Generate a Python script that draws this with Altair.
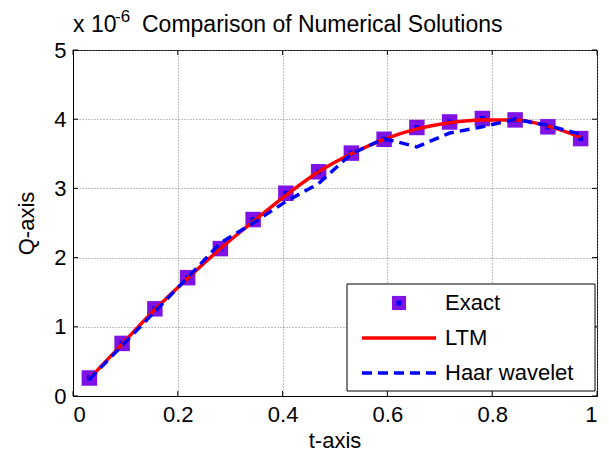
import altair as alt
import pandas as pd

# ---- data (values in units of 1e-6) ----
t_vals = [0.03125, 0.09375, 0.15625, 0.21875, 0.28125, 0.34375, 0.40625, 0.46875,
          0.53125, 0.59375, 0.65625, 0.71875, 0.78125, 0.84375, 0.90625, 0.96875]
exact = [0.26, 0.76, 1.26, 1.71, 2.13, 2.55, 2.93, 3.24, 3.51, 3.71, 3.88, 3.96, 4.01, 3.99, 3.89, 3.72]
ltm = [0.25, 0.75, 1.25, 1.70, 2.13, 2.52, 2.90, 3.24, 3.50, 3.71, 3.86, 3.95, 3.99, 3.99, 3.90, 3.74]
haar = [0.24, 0.73, 1.22, 1.71, 2.21, 2.50, 2.81, 3.07, 3.50, 3.72, 3.60, 3.80, 3.89, 4.00, 3.91, 3.78]
x_ticks = [0, 0.2, 0.4, 0.6, 0.8, 1.0]
y_ticks = [0, 1, 2, 3, 4, 5]
legend_labels = ["Exact", "LTM", "Haar wavelet"]
x_title = "t-axis"
y_title = "Q-axis"

W, H = 524, 346
FONT = "Liberation Sans"
PURPLE = "#7F13E6"

df = pd.DataFrame({"t": t_vals, "exact": exact, "ltm": ltm, "haar": haar})
xt = pd.DataFrame({"v": x_ticks})
yt = pd.DataFrame({"v": y_ticks})

xs = alt.Scale(domain=[0, 1], nice=False, zero=False)
ys = alt.Scale(domain=[0, 5], nice=False, zero=False)

x_enc = alt.X("t:Q", scale=xs, axis=alt.Axis(values=x_ticks, format=".1~f", title=""))
base = alt.Chart(df)

squares = base.mark_point(shape="square", filled=True, size=240, color=PURPLE, opacity=1).encode(
    x=x_enc,
    y=alt.Y("exact:Q", scale=ys, axis=alt.Axis(values=y_ticks, format="d", title=y_title,
                                               titlePadding=15)),
)
centers = base.mark_point(shape="square", filled=True, size=25, color="#0000FF", opacity=1).encode(
    x="t:Q", y="exact:Q")
ltm_line = base.mark_line(color="#FF0000", strokeWidth=3.5, interpolate="monotone").encode(
    x="t:Q", y="ltm:Q")
haar_line = base.mark_line(color="#0000FF", strokeWidth=3.5, strokeDash=[10, 6]).encode(
    x="t:Q", y="haar:Q")

# inward ticks (Matlab style)
xtick_b = alt.Chart(xt).mark_rule(color="black").encode(x=alt.X("v:Q", scale=xs), y=alt.value(H), y2=alt.value(H - 5))
xtick_t = alt.Chart(xt).mark_rule(color="black").encode(x=alt.X("v:Q", scale=xs), y=alt.value(0), y2=alt.value(5))
ytick_l = alt.Chart(yt).mark_rule(color="black").encode(y=alt.Y("v:Q", scale=ys), x=alt.value(0), x2=alt.value(5))
ytick_r = alt.Chart(yt).mark_rule(color="black").encode(y=alt.Y("v:Q", scale=ys), x=alt.value(W), x2=alt.value(W - 5))

one = pd.DataFrame({"a": [0]})
def txt(s, x, y, size, align="left", baseline="alphabetic"):
    return alt.Chart(one).mark_text(text=s, font=FONT, fontSize=size, align=align,
                                    baseline=baseline, color="black").encode(
        x=alt.value(x), y=alt.value(y))

title_parts = [
    txt("x 10", 0, -18, 23),
    txt("-6", 42, -41, 17, baseline="top"),
    txt("Comparison of Numerical Solutions", 69, -18, 23),
    txt(x_title, W / 2, 398, 22, align="center"),
]

# legend box
lx0, lx1, ly0, ly1 = 274, 522, 234, 341
leg_box = alt.Chart(one).mark_rect(fill="white", stroke="black", strokeWidth=1).encode(
    x=alt.value(lx0), x2=alt.value(lx1), y=alt.value(ly0), y2=alt.value(ly1))
rows = [253, 288, 323]
leg_sq = alt.Chart(one).mark_point(shape="square", filled=True, size=200, color=PURPLE, opacity=1).encode(
    x=alt.value(326), y=alt.value(rows[0]))
leg_sq_c = alt.Chart(one).mark_point(shape="square", filled=True, size=25, color="#0000FF", opacity=1).encode(
    x=alt.value(326), y=alt.value(rows[0]))
leg_ltm = alt.Chart(one).mark_rule(color="#FF0000", strokeWidth=3.5).encode(
    x=alt.value(289), x2=alt.value(363), y=alt.value(rows[1]))
leg_haar = alt.Chart(one).mark_rule(color="#0000FF", strokeWidth=3.5, strokeDash=[10, 6]).encode(
    x=alt.value(289), x2=alt.value(363), y=alt.value(rows[2]))
leg_txt = [txt(lbl, 372, r, 22, baseline="middle") for lbl, r in zip(legend_labels, rows)]

chart = alt.layer(
    squares, centers, ltm_line, haar_line,
    xtick_b, xtick_t, ytick_l, ytick_r,
    *title_parts,
    leg_box, leg_sq, leg_sq_c, leg_ltm, leg_haar, *leg_txt,
).properties(
    width=W, height=H,
    autosize=alt.AutoSizeParams(type="none"),
    padding={"left": 65, "top": 42, "right": 2, "bottom": 58},
).configure_view(
    stroke="black", strokeWidth=1
).configure_axis(
    labelFont=FONT, labelFontSize=22, labelColor="black",
    titleFont=FONT, titleFontSize=22, titleColor="black", titleFontWeight="normal",
    grid=True, gridColor="#808080", gridDash=[1, 2], gridOpacity=1, gridWidth=1,
    ticks=False, domainColor="black", domainWidth=1, labelPadding=7,
).configure_axisX(labelPadding=8)

chart.save("out.html", embed_options={"renderer": "svg", "actions": False})
